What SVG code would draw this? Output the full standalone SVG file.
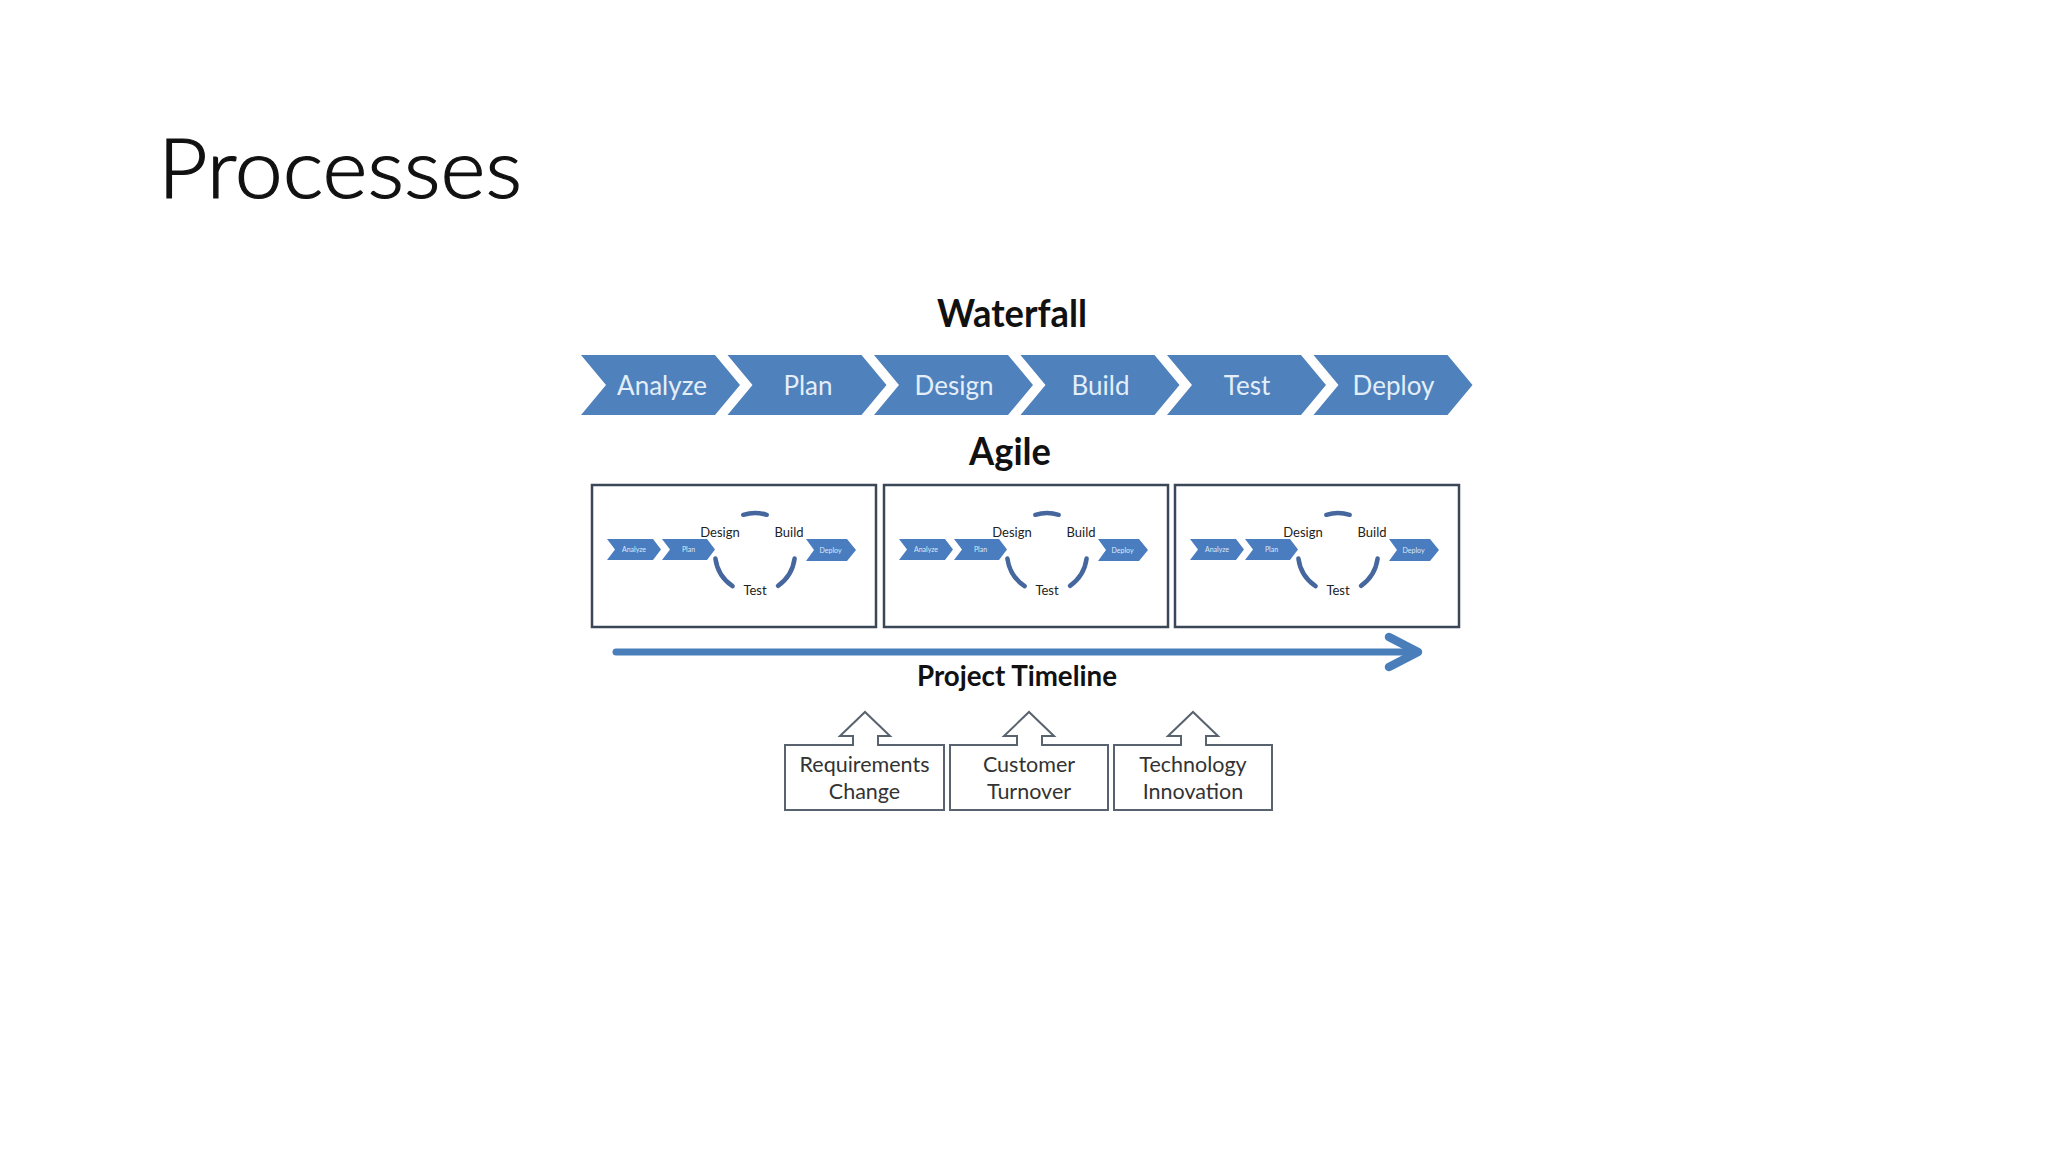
<svg xmlns="http://www.w3.org/2000/svg" width="2048" height="1152" viewBox="0 0 2048 1152">
<style>
.title{font-family:Lato,"Open Sans","Liberation Sans",sans-serif;font-size:82px;font-weight:300;fill:#111;stroke:#111;stroke-width:1.2}
.hdr{font-family:Lato,"Liberation Sans",sans-serif;font-weight:bold;fill:#111;text-anchor:middle}
.chev{fill:#4f81bd}
.chevt{font-family:Lato,"Liberation Sans",sans-serif;font-size:26px;fill:#e4eef9;text-anchor:middle}
.abox{fill:#fff;stroke:#3b4657;stroke-width:2.5}
.mchev{fill:#4a7cc0}
.mchevt{font-family:Lato,"Liberation Sans",sans-serif;font-size:7px;fill:#dfe9f6;text-anchor:middle}
.arc{fill:none;stroke:#46679d;stroke-width:4.5;stroke-linecap:round}
.lbl{font-family:Lato,"Liberation Sans",sans-serif;font-size:13px;fill:#222;text-anchor:middle}
.fbox{fill:#fff;stroke:#59636f;stroke-width:2;stroke-linejoin:miter}
.ftxt{font-family:Lato,"Liberation Sans",sans-serif;font-size:21.5px;fill:#333;text-anchor:middle}
.tl{fill:none;stroke:#4a7ebb;stroke-linecap:round;stroke-linejoin:round}
</style>
<rect width="2048" height="1152" fill="#fff"/>
<text class="title" x="158" y="198" textLength="364" lengthAdjust="spacingAndGlyphs">Processes</text>

<text class="hdr" x="1012" y="327" font-size="38" textLength="150" lengthAdjust="spacingAndGlyphs">Waterfall</text>

<g id="wf-analyze"><path class="chev" d="M581,355 L715,355 L740,385 L715,415 L581,415 L606,385 Z"/><text class="chevt" x="662" y="395">Analyze</text></g>
<g id="wf-plan"><path class="chev" d="M727.5,355 L861.5,355 L886.5,385 L861.5,415 L727.5,415 L752.5,385 Z"/><text class="chevt" x="808" y="395">Plan</text></g>
<g id="wf-design"><path class="chev" d="M874,355 L1008,355 L1033,385 L1008,415 L874,415 L899,385 Z"/><text class="chevt" x="954" y="395">Design</text></g>
<g id="wf-build"><path class="chev" d="M1020.5,355 L1154.5,355 L1179.5,385 L1154.5,415 L1020.5,415 L1045.5,385 Z"/><text class="chevt" x="1100.5" y="395">Build</text></g>
<g id="wf-test"><path class="chev" d="M1167,355 L1301,355 L1326,385 L1301,415 L1167,415 L1192,385 Z"/><text class="chevt" x="1247" y="395">Test</text></g>
<g id="wf-deploy"><path class="chev" d="M1313.5,355 L1447.5,355 L1472.5,385 L1447.5,415 L1313.5,415 L1338.5,385 Z"/><text class="chevt" x="1393.5" y="395">Deploy</text></g>

<text class="hdr" x="1010" y="465" font-size="38" textLength="82" lengthAdjust="spacingAndGlyphs">Agile</text>

<g id="agile-1">
<rect class="abox" x="592" y="485" width="284" height="142"/>
<path class="mchev" d="M607,539 L653,539 L661,549.5 L653,560 L607,560 L615,549.5 Z"/><text class="mchevt" x="634" y="552">Analyze</text>
<path class="mchev" d="M662,539 L707,539 L715,549.5 L707,560 L662,560 L670,549.5 Z"/><text class="mchevt" x="688.5" y="552">Plan</text>
<path class="mchev" d="M806,539 L847,539 L856,550 L847,561 L806,561 L814,550 Z"/><text class="mchevt" x="830.5" y="552.5">Deploy</text>
<path class="arc" d="M743.3,514.8 A40 40 0 0 1 766.7,514.8"/>
<path class="arc" d="M732.6,586.2 A40 40 0 0 1 715.4,558.6"/>
<path class="arc" d="M794.6,558.6 A40 40 0 0 1 778,585.8"/>
<text class="lbl" x="720" y="537">Design</text>
<text class="lbl" x="789" y="537">Build</text>
<text class="lbl" x="755" y="595">Test</text>
</g>
<g id="agile-2" transform="translate(292,0)">
<rect class="abox" x="592" y="485" width="284" height="142"/>
<path class="mchev" d="M607,539 L653,539 L661,549.5 L653,560 L607,560 L615,549.5 Z"/><text class="mchevt" x="634" y="552">Analyze</text>
<path class="mchev" d="M662,539 L707,539 L715,549.5 L707,560 L662,560 L670,549.5 Z"/><text class="mchevt" x="688.5" y="552">Plan</text>
<path class="mchev" d="M806,539 L847,539 L856,550 L847,561 L806,561 L814,550 Z"/><text class="mchevt" x="830.5" y="552.5">Deploy</text>
<path class="arc" d="M743.3,514.8 A40 40 0 0 1 766.7,514.8"/>
<path class="arc" d="M732.6,586.2 A40 40 0 0 1 715.4,558.6"/>
<path class="arc" d="M794.6,558.6 A40 40 0 0 1 778,585.8"/>
<text class="lbl" x="720" y="537">Design</text>
<text class="lbl" x="789" y="537">Build</text>
<text class="lbl" x="755" y="595">Test</text>
</g>
<g id="agile-3" transform="translate(583,0)">
<rect class="abox" x="592" y="485" width="284" height="142"/>
<path class="mchev" d="M607,539 L653,539 L661,549.5 L653,560 L607,560 L615,549.5 Z"/><text class="mchevt" x="634" y="552">Analyze</text>
<path class="mchev" d="M662,539 L707,539 L715,549.5 L707,560 L662,560 L670,549.5 Z"/><text class="mchevt" x="688.5" y="552">Plan</text>
<path class="mchev" d="M806,539 L847,539 L856,550 L847,561 L806,561 L814,550 Z"/><text class="mchevt" x="830.5" y="552.5">Deploy</text>
<path class="arc" d="M743.3,514.8 A40 40 0 0 1 766.7,514.8"/>
<path class="arc" d="M732.6,586.2 A40 40 0 0 1 715.4,558.6"/>
<path class="arc" d="M794.6,558.6 A40 40 0 0 1 778,585.8"/>
<text class="lbl" x="720" y="537">Design</text>
<text class="lbl" x="789" y="537">Build</text>
<text class="lbl" x="755" y="595">Test</text>
</g>

<g id="connectors">
<line class="tl" x1="616" y1="652" x2="1414" y2="652" stroke-width="7"/>
<polyline class="tl" points="1389,637 1418,652 1389,667" stroke-width="8.5"/>
</g>

<text class="hdr" x="1017" y="686" font-size="29" textLength="200" lengthAdjust="spacingAndGlyphs">Project Timeline</text>

<g id="factor-requirements">
<path class="fbox" d="M785,745 L853,745 L853,736 L840,736 L865,712 L890,736 L878,736 L878,745 L944,745 L944,810 L785,810 Z"/>
<text class="ftxt" x="864.5" y="772">Requirements</text>
<text class="ftxt" x="864.5" y="799">Change</text>
</g>
<g id="factor-customer">
<path class="fbox" d="M950,745 L1017,745 L1017,736 L1004,736 L1029,712 L1054,736 L1042,736 L1042,745 L1108,745 L1108,810 L950,810 Z"/>
<text class="ftxt" x="1029" y="772">Customer</text>
<text class="ftxt" x="1029" y="799">Turnover</text>
</g>
<g id="factor-technology">
<path class="fbox" d="M1114,745 L1181,745 L1181,736 L1168,736 L1193,712 L1218,736 L1206,736 L1206,745 L1272,745 L1272,810 L1114,810 Z"/>
<text class="ftxt" x="1193" y="772">Technology</text>
<text class="ftxt" x="1193" y="799">Innovation</text>
</g>
</svg>
